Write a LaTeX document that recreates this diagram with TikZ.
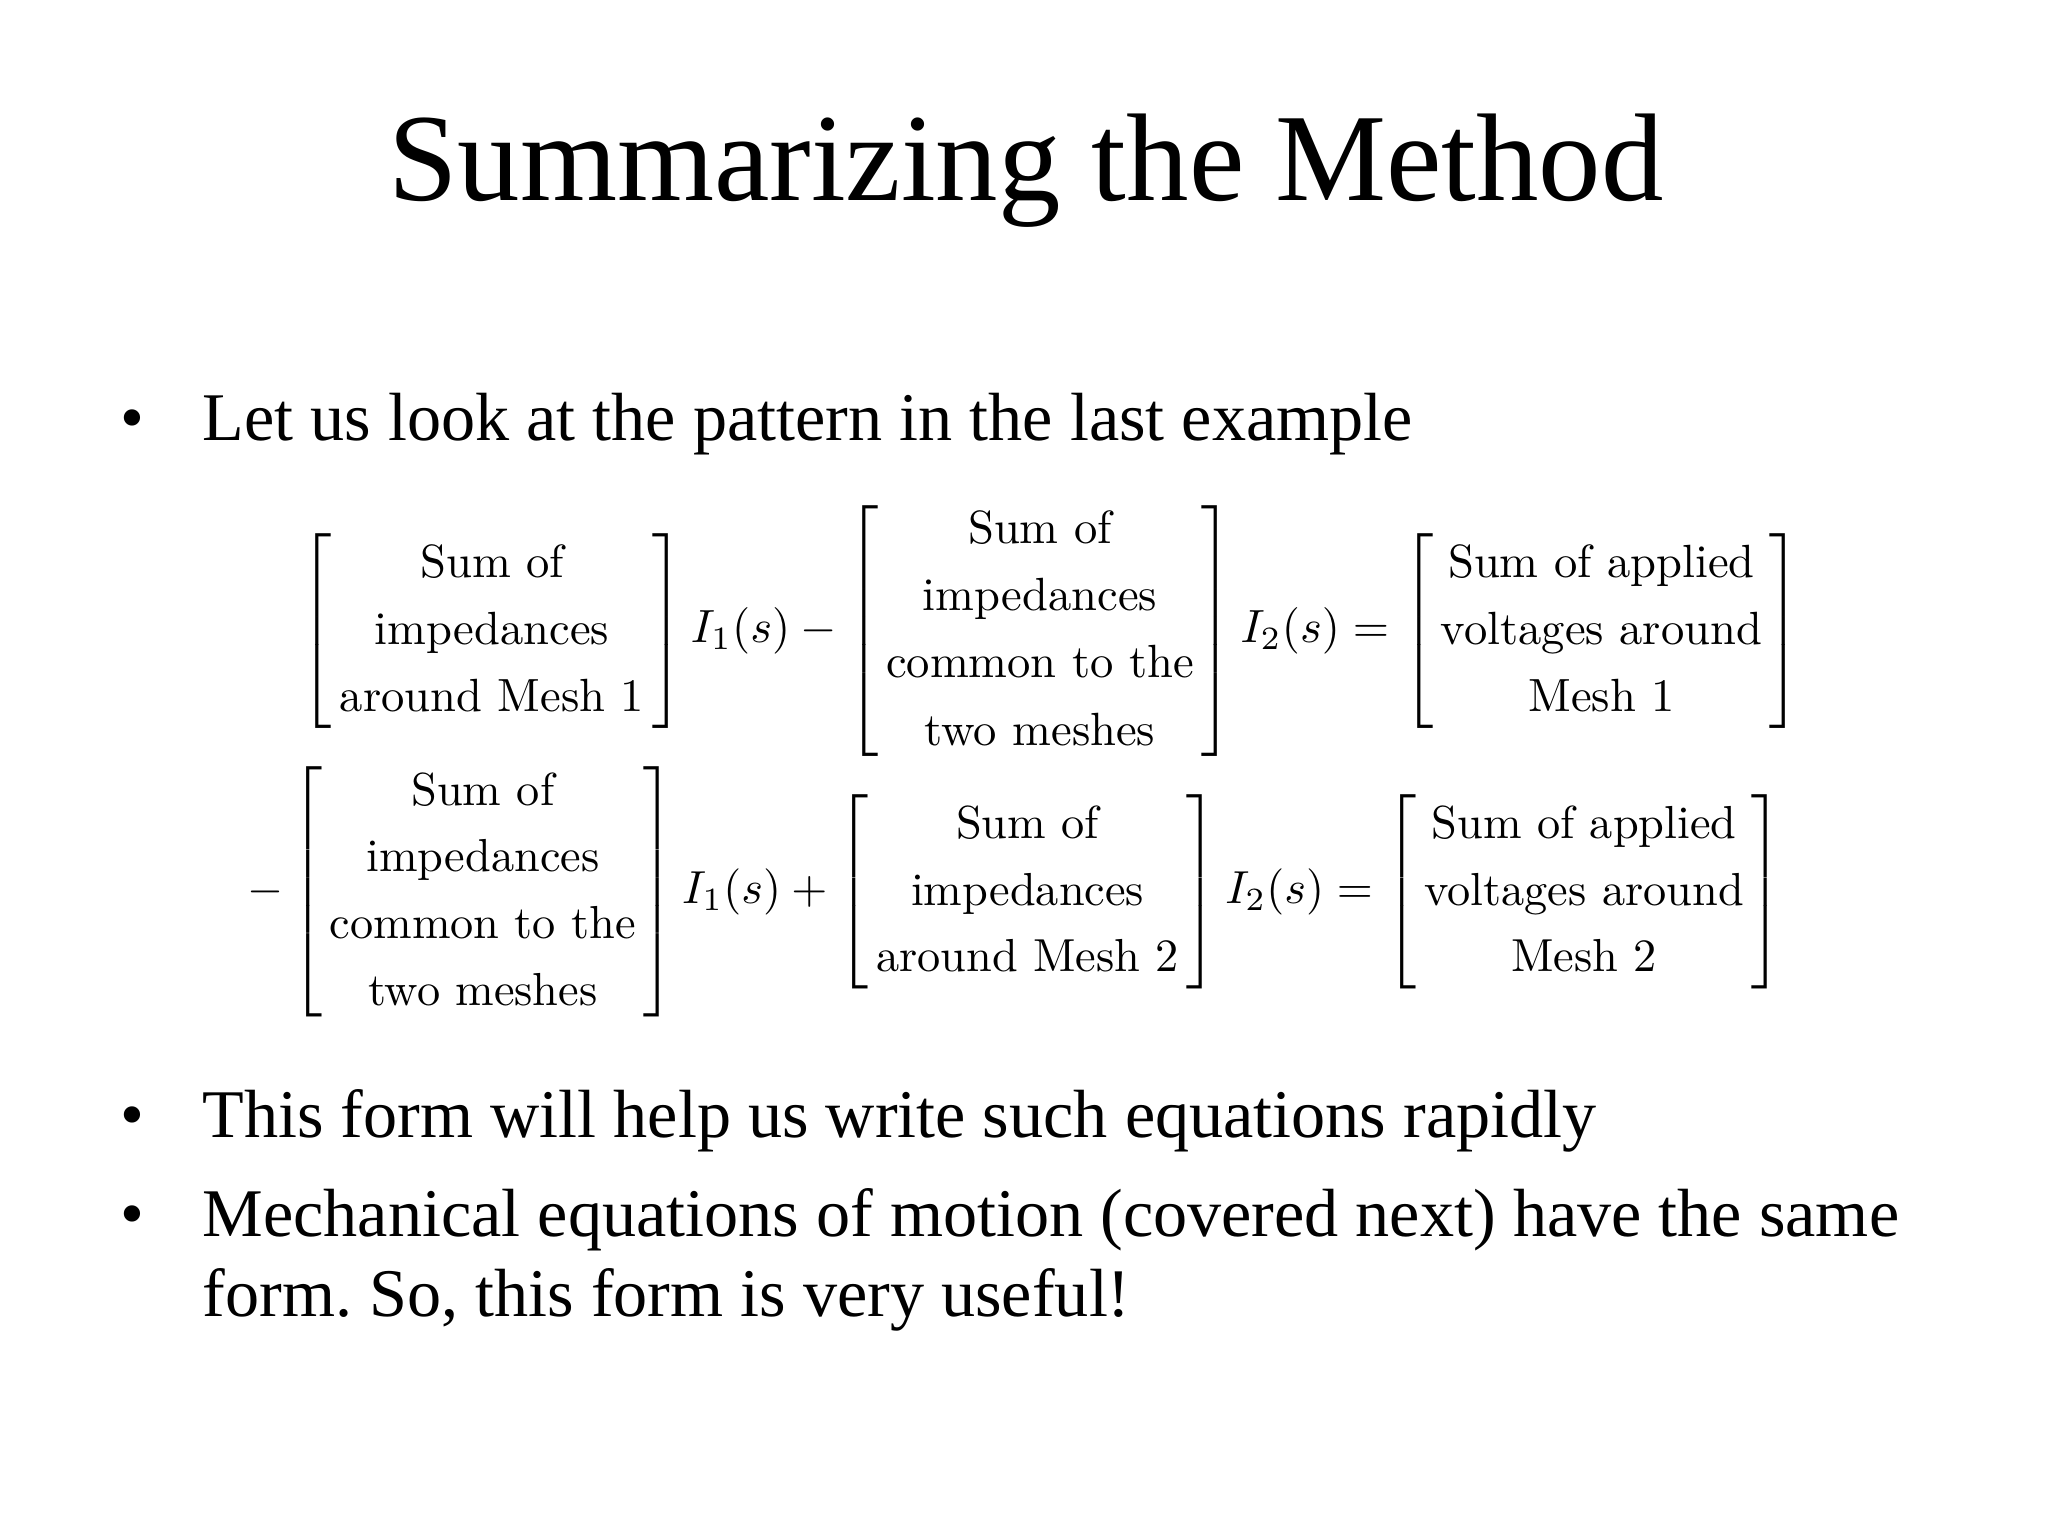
\documentclass[tikz,border=0pt]{standalone}
\usepackage{fontspec}
\setmainfont{Liberation Serif}
\newfontfamily\eqfont{Latin Modern Roman}
\usepackage{amsmath}
\newcommand{\cell}[1]{\begin{tabular}{@{\,}c@{\,}}#1\end{tabular}}
\begin{document}
\begin{tikzpicture}[x=1cm,y=1cm,
  body/.style={anchor=base west,inner sep=0pt,font=\fontsize{19.4}{23}\selectfont},
  bul/.style={anchor=base,inner sep=0pt,font=\fontsize{19.4}{23}\selectfont}]
\useasboundingbox[fill=white] (0,0) rectangle (20.48,15.36);
\node[anchor=base,inner sep=0pt,font=\fontsize{35.5}{42}\selectfont] (title) at (10.26,13.35) {Summarizing the Method};
\node[bul] (b1) at (1.32,10.95) {•};
\node[body] (t1) at (2.02,10.95) {Let us look at the pattern in the last example};
\node (e1) at (10.51,9.05) {\resizebox{15cm}{!}{\eqfont\renewcommand{\arraystretch}{1.2}$\left[\cell{Sum of\\impedances\\around Mesh 1}\right]I_1(s)-\left[\cell{Sum of\\impedances\\common to the\\two meshes}\right]I_2(s)=\left[\cell{Sum of applied\\voltages around\\Mesh 1}\right]$}};
\node (e2) at (10.15,6.44) {\resizebox{15.35cm}{!}{\eqfont\renewcommand{\arraystretch}{1.2}$-\left[\cell{Sum of\\impedances\\common to the\\two meshes}\right]I_1(s)+\left[\cell{Sum of\\impedances\\around Mesh 2}\right]I_2(s)=\left[\cell{Sum of applied\\voltages around\\Mesh 2}\right]$}};
\node[bul] (b2) at (1.32,3.98) {•};
\node[body] (t2) at (2.02,3.98) {This form will help us write such equations rapidly};
\node[bul] (b3) at (1.32,2.99) {•};
\node[body] (t3) at (2.02,2.99) {Mechanical equations of motion (covered next) have the same};
\node[body] (t4) at (2.02,2.19) {form.\ So, this form is very useful!};
\end{tikzpicture}
\end{document}
